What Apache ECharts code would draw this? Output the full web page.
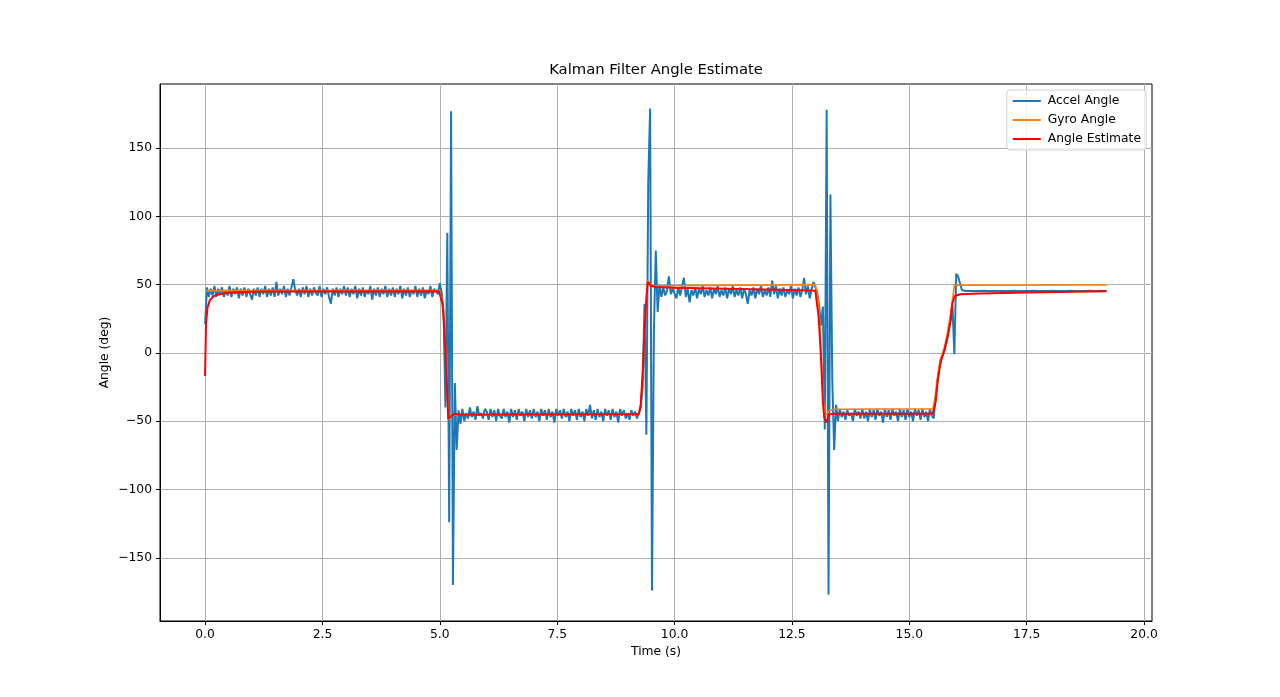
<!DOCTYPE html>
<html>
<head>
<meta charset="utf-8">
<title>Kalman Filter Angle Estimate</title>
<script src="https://cdn.jsdelivr.net/npm/echarts@6/dist/echarts.min.js"></script>
<style>
  html, body { margin: 0; padding: 0; background: #fff; }
  #chart { width: 1280px; height: 697px; }
</style>
</head>
<body>
<div id="chart"></div>
<script>
// ---- datos ----

// accel angle, one sample every 0.04 s from t = 0
var ACCEL_START = 0;
var ACCEL_STEP = 0.04;
var accelAngle = [
  // 0 - 0.96
  21, 48, 41, 47, 42, 49, 41, 47, 43, 48, 41, 46, 42, 49, 41, 47, 43, 48, 40, 47, 42, 48, 41, 47, 43,
  // 1 - 1.96
  39, 47, 42, 48, 41, 47, 43, 49, 41, 47, 42, 48, 41, 52, 42, 47, 43, 49, 41, 47, 42, 48, 54, 46, 42,
  // 2
  47, 41, 48, 43, 49, 41, 47, 42, 48, 44, 42, 49, 41, 47, 43, 48, 41, 36, 47, 42, 48, 41, 47, 43, 49,
  // 3
  42, 48, 41, 47, 43, 49, 40, 47, 42, 48, 41, 46, 43, 49, 39, 47, 42, 48, 41, 47, 43, 49, 41, 47, 42,
  // 4
  48, 41, 47, 43, 49, 40, 47, 42, 48, 41, 46, 43, 49, 41, 47, 42, 48, 40, 46, 43, 49, 41, 47, 48, 43,
  // 5
  51, 44, 30, -40, 88, -124, 177, -170, -22, -71, -42, -52, -41, -50, -44, -48, -40, -47, -43, -49, -39, -46, -44, -48, -41,
  // 6
  -43, -49, -41, -47, -42, -50, -41, -46, -48, -41, -47, -43, -51, -41, -47, -42, -49, -41, -46, -43, -50, -41, -47, -42, -48,
  // 7
  -41, -47, -43, -50, -41, -46, -42, -49, -41, -47, -43, -51, -41, -46, -42, -48, -41, -47, -43, -50, -41, -46, -42, -49, -41,
  // 8
  -47, -43, -50, -41, -46, -38, -48, -42, -49, -41, -47, -43, -50, -41, -46, -42, -49, -41, -47, -43, -51, -41, -46, -42, -48,
  // 9
  -44, -49, -42, -46, -43, -48, -44, -40, -25, 36, -60, 126, 179, -174, 16, 75, 30, 50, 41, 48, 42, 46, 56, 43, 47,
  // 10
  47, 40, 48, 42, 49, 55, 41, 47, 37, 46, 42, 48, 40, 47, 43, 49, 41, 46, 42, 48, 40, 47, 43, 49, 41,
  // 11
  46, 42, 48, 40, 47, 43, 49, 41, 46, 42, 48, 40, 47, 43, 36, 46, 42, 48, 40, 47, 43, 49, 41, 46, 42,
  // 12
  48, 41, 53, 43, 49, 40, 47, 42, 48, 41, 46, 43, 49, 40, 47, 42, 48, 41, 46, 55, 43, 49, 40, 47, 52,
  // 13
  52, 44, 35, 20, 34, -56, 178, -177, 116, -20, -71, -38, -50, -41, -47, -43, -49, -42, -46, -44, -50, -41, -46, -43, -48,
  // 14
  -41, -48, -43, -50, -41, -47, -42, -49, -41, -46, -43, -51, -41, -47, -42, -49, -41, -46, -43, -50, -41, -47, -42, -49, -41,
  // 15
  -47, -43, -50, -41, -46, -42, -49, -41, -47, -43, -50, -41, -46, -48, -33, -21, -11, -5, -1, 3, 9, 16, 24, 34, -1,
  // 16
  58, 56, 51, 46, 45.4, 45.4, 45.5, 45.4, 45.4, 45.4, 45.5, 45.4, 45.4, 45.4, 45.4, 45.5, 45.4, 45.4, 45.4, 45.4, 45.5, 45.4, 45.4, 45.4, 45.4,
  // 17
  45.4, 45.5, 45.4, 45.4, 45.4, 45.4, 45.5, 45.4, 45.4, 45.4, 45.4, 45.5, 45.4, 45.4, 45.4, 45.4, 45.5, 45.4, 45.4, 45.4, 45.4, 45.5, 45.4, 45.4, 45.4,
  // 18
  45.4, 45.5, 45.4, 45.4, 45.4, 45.4, 45.5, 45.4, 45.4, 45.4, 45.4, 45.5, 45.4, 45.4, 45.4, 45.4, 45.5, 45.4, 45.4, 45.4, 45.4, 45.5, 45.4, 45.4, 45.4,
  // 19 - 19.2
  45.4, 45.4, 45.5, 45.4, 45.4, 45.4
];

// gyro angle (orange)
var gyroTime = [0, 1, 4.98, 5.04, 5.08, 5.12, 5.16, 5.19, 5.23, 5.3, 9.24,
  9.28, 9.32, 9.36, 9.4, 9.43, 9.5, 9.6, 10, 13.0,
  13.05, 13.09, 13.13, 13.17, 13.21, 13.25, 13.3, 13.4, 15.5,
  15.55, 15.6, 15.66, 15.74, 15.81, 15.87, 15.92, 15.96, 19.2];
var gyroAngle = [45.5, 45.6, 45.8, 40, 30, 5, -30, -49, -46, -45.5, -44.5,
  -38, -18, 12, 40, 53, 49.5, 49, 49.3, 50,
  42, 25, -5, -35, -46, -44.5, -42, -41.3, -41,
  -33, -18, -5, 3, 14, 27, 39, 49.5, 49.8];

// angle estimate (red)
var estTime = [0, 0.02, 0.05, 0.1, 0.15, 0.2, 0.3, 0.45, 0.7, 1.2, 4.98,
  5.057, 5.09, 5.127, 5.156, 5.18, 5.25, 5.32, 5.45, 9.24,
  9.28, 9.32, 9.36, 9.4, 9.43, 9.46, 9.5, 9.6, 10, 12.5, 13.0,
  13.07, 13.12, 13.16, 13.19, 13.24, 13.29, 13.4, 15.5,
  15.56, 15.61, 15.67, 15.74, 15.81, 15.88, 15.92, 15.97, 16.08, 16.5, 17.5, 19.2];
var estAngle = [-17, 21, 33, 38.5, 40.5, 41.8, 43, 43.8, 44.4, 45, 45.2,
  36, 21, -4, -29, -48.3, -46, -44.7, -45.3, -44.8,
  -38, -15, 15, 40, 52, 50.5, 49, 48.3, 47.8, 46, 45.5,
  26, -4, -36, -47.5, -51, -45, -44.5, -44.5,
  -36, -19, -6, 1, 11, 24, 36.5, 41.7, 43, 43.5, 44.2, 45.2];

var xTicks = [0, 2.5, 5, 7.5, 10, 12.5, 15, 17.5, 20];
var xTickLabels = ['0.0', '2.5', '5.0', '7.5', '10.0', '12.5', '15.0', '17.5', '20.0'];
var yTicks = [-150, -100, -50, 0, 50, 100, 150];
var yTickLabels = ['\u2212150', '\u2212100', '\u221250', '0', '50', '100', '150'];

// ---- armar series ----
var accelData = accelAngle.map(function (v, i) {
  return [+(ACCEL_START + i * ACCEL_STEP).toFixed(2), v];
});
var gyroData = gyroTime.map(function (t, i) { return [t, gyroAngle[i]]; });
var estData = estTime.map(function (t, i) { return [t, estAngle[i]]; });

var FONT = 'DejaVu Sans';
var FS = 12.3;

var chart = echarts.init(document.getElementById('chart'), null, { renderer: 'canvas' });

var options = {
  animation: false,
  backgroundColor: '#ffffff',
  textStyle: { fontFamily: FONT },
  title: {
    text: 'Kalman Filter Angle Estimate',
    left: 656,
    top: 63,
    textAlign: 'center',
    padding: 0,
    textStyle: { fontFamily: FONT, fontSize: 14.8, fontWeight: 'normal', color: '#000' }
  },
  legend: {
    orient: 'vertical',
    right: 134,
    top: 90,
    padding: [4, 5, 4, 6],
    itemGap: 5,
    itemWidth: 28,
    itemHeight: 2,
    icon: 'rect',
    borderColor: '#d0d0d0',
    borderWidth: 1,
    borderRadius: 3,
    backgroundColor: 'rgba(255,255,255,0.8)',
    textStyle: { fontFamily: FONT, fontSize: FS, lineHeight: 14, color: '#000', padding: [0, 0, 0, 2] },
    data: ['Accel Angle', 'Gyro Angle', 'Angle Estimate']
  },
  grid: {
    left: 160,
    right: 128,
    top: 84,
    bottom: 76,
    show: true,
    borderColor: '#000',
    borderWidth: 1,
    containLabel: false
  },
  xAxis: {
    type: 'value',
    min: -0.96,
    max: 20.17,
    name: 'Time (s)',
    nameLocation: 'middle',
    nameGap: 25,
    nameMoveOverlap: false,
    nameTextStyle: { fontFamily: FONT, fontSize: FS, color: '#000' },
    axisLine: { show: true, onZero: false, lineStyle: { color: '#000', width: 1 } },
    axisTick: { show: true, length: 4, customValues: xTicks, lineStyle: { color: '#000' } },
    axisLabel: {
      margin: 8,
      customValues: xTicks,
      fontFamily: FONT,
      fontSize: FS,
      color: '#000',
      formatter: function (v) { return xTickLabels[xTicks.indexOf(v)]; }
    },
    splitLine: { show: true, lineStyle: { color: '#b0b0b0', width: 1 } }
  },
  yAxis: {
    type: 'value',
    min: -196.3,
    max: 196.9,
    name: 'Angle (deg)',
    nameLocation: 'middle',
    nameGap: 49,
    nameRotate: 90,
    nameMoveOverlap: false,
    nameTextStyle: { fontFamily: FONT, fontSize: FS, color: '#000' },
    axisLine: { show: true, onZero: false, lineStyle: { color: '#000', width: 1 } },
    axisTick: { show: true, length: 4, customValues: yTicks, lineStyle: { color: '#000' } },
    axisLabel: {
      margin: 8,
      customValues: yTicks,
      fontFamily: FONT,
      fontSize: FS,
      color: '#000',
      formatter: function (v) { return yTickLabels[yTicks.indexOf(v)]; }
    },
    splitLine: { show: true, lineStyle: { color: '#b0b0b0', width: 1 } }
  },
  series: [
    {
      name: 'Accel Angle',
      type: 'line',
      data: accelData,
      showSymbol: false,
      symbol: 'none',
      sampling: null,
      color: '#1f77b4',
      lineStyle: { color: '#1f77b4', width: 2 },
      z: 2
    },
    {
      name: 'Gyro Angle',
      type: 'line',
      data: gyroData,
      showSymbol: false,
      symbol: 'none',
      color: '#ff7f0e',
      lineStyle: { color: '#ff7f0e', width: 1.6 },
      z: 3
    },
    {
      name: 'Angle Estimate',
      type: 'line',
      data: estData,
      showSymbol: false,
      symbol: 'none',
      color: '#ff0000',
      lineStyle: { color: '#ff0000', width: 2 },
      z: 4
    }
  ]
};

chart.setOption(options);
</script>
</body>
</html>
